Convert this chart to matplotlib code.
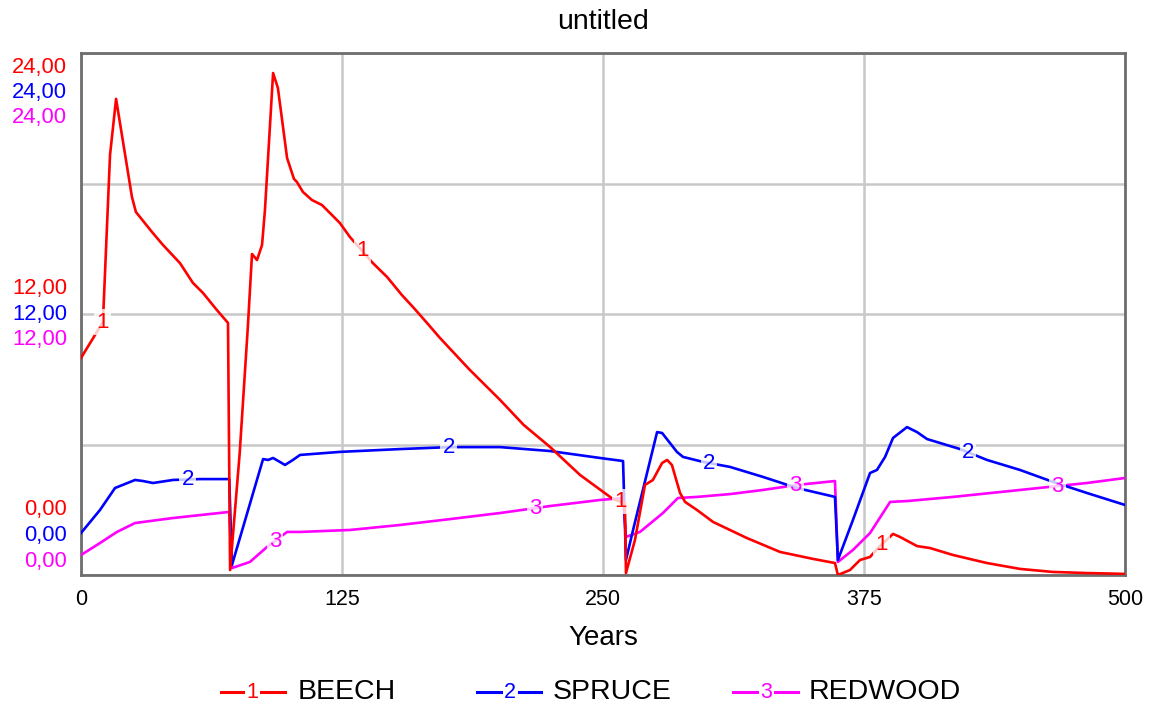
import matplotlib.pyplot as plt
import numpy as np
from matplotlib.lines import Line2D

plt.rcParams['font.family'] = ['Liberation Sans', 'DejaVu Sans']

# values (year, value)
beech_x = [0, 10.5, 13.9, 16.8, 24.4, 26.3, 34.0, 39.3, 47.4, 53.6, 58.4, 65.1, 70.4,
           71.4, 76.0, 79.9, 81.9, 84.3, 86.7, 88.1, 92.0, 94.3, 98.7, 102.0, 103.4, 106.3,
           110.6, 115.4, 120.2, 124.0, 128.8, 135.1, 139.8, 146.6, 153.7, 159.0, 165.7,
           171.9, 186.0, 200.7, 212.0, 224.6, 239.0, 254.8, 260.5,
           261.0, 265.3, 270.1, 273.9, 278.3, 280.7, 283.0, 286.9, 289.3, 295.0, 302.7,
           310.8, 318.9, 334.8, 350.6, 361.1,
           362.5, 368.3, 373.1, 377.9, 381.7, 388.9, 392.2, 400.4, 406.6, 417.6, 433.9,
           449.7, 465.5, 481.8, 500]
beech_y = [9.98, 11.63, 19.31, 21.89, 17.38, 16.69, 15.77, 15.17, 14.34, 13.43, 12.97, 12.18, 11.59,
           0.23, 5.6, 11.4, 14.76, 14.48, 15.17, 16.78, 23.08, 22.39, 19.17, 18.21, 18.07, 17.61,
           17.24, 17.01, 16.55, 16.18, 15.54, 14.85, 14.34, 13.70, 12.87, 12.32, 11.59,
           10.90, 9.45, 8.05, 6.90, 5.89, 4.60, 3.49, 3.31,
           0.09, 1.61, 4.14, 4.37, 5.15, 5.29, 5.06, 3.77, 3.36, 2.99, 2.44,
           2.07, 1.70, 1.06, 0.74, 0.55,
           0.0, 0.23, 0.69, 0.83, 1.24, 1.89, 1.75, 1.33, 1.24, 0.92, 0.55,
           0.28, 0.14, 0.09, 0.05]

spruce_x = [0, 9.1, 16.3, 25.9, 29.7, 34.5, 44.1, 57.0, 71.0,
            72.3, 87.2, 89.6, 92.0, 97.7, 101.5, 104.9, 124.0, 152.8, 176.7, 200.7,
            224.6, 248.6, 259.6,
            261.0, 264.4, 275.9, 278.3, 285.4, 288.3, 297.9, 310.8, 326.6, 342.9, 361.1,
            362.5, 369.7, 377.9, 381.2, 385.1, 388.9, 395.6, 400.4, 405.2, 411.4, 421.0,
            433.9, 449.7, 465.5, 481.8, 500]
spruce_y = [1.93, 2.99, 4.00, 4.37, 4.32, 4.23, 4.37, 4.41, 4.41,
            0.46, 5.33, 5.29, 5.38, 5.06, 5.29, 5.52, 5.66, 5.79, 5.88, 5.88,
            5.70, 5.38, 5.24,
            0.69, 2.07, 6.57, 6.53, 5.66, 5.43, 5.20, 4.97, 4.51, 4.00, 3.59,
            0.69, 2.53, 4.69, 4.83, 5.43, 6.30, 6.80, 6.57, 6.25, 6.07, 5.79,
            5.29, 4.83, 4.28, 3.77, 3.22]

redwood_x = [0, 9.1, 17.2, 25.9, 44.1, 71.0,
             72.3, 80.9, 89.1, 98.7, 104.9, 128.8, 152.8, 176.7, 200.7, 224.6, 248.6, 259.6,
             261.0, 267.7, 278.7, 285.9, 295.0, 310.8, 326.6, 342.9, 361.1,
             362.5, 369.7, 377.9, 387.5, 395.6, 417.6, 449.7, 481.8, 500]
redwood_y = [0.92, 1.47, 1.98, 2.39, 2.62, 2.90,
             0.32, 0.60, 1.29, 1.98, 1.98, 2.07, 2.30, 2.57, 2.85, 3.17, 3.45, 3.54,
             1.75, 1.98, 2.85, 3.54, 3.59, 3.72, 3.91, 4.14, 4.32,
             0.60, 1.15, 1.93, 3.36, 3.40, 3.59, 3.91, 4.23, 4.46]

names = ['BEECH', 'SPRUCE', 'REDWOOD']
colors = ['#ff0000', '#0000ff', '#ff00ff']
tags = ['1', '2', '3']
label_years = [[10.5, 134.6, 258.6, 383.6],
               [51.2, 176.2, 300.8, 424.8],
               [92.9, 217.4, 342.0, 467.5]]
scale_ticks = [24, 12, 0]
x_ticks = [0, 125, 250, 375, 500]

W, H = 1150, 708
fig = plt.figure(figsize=(W / 100, H / 100), dpi=100)
ax = fig.add_axes([81 / W, 1 - 575 / H, (1125 - 81) / W, (575 - 53) / H])

series = [(beech_x, beech_y), (spruce_x, spruce_y), (redwood_x, redwood_y)]
for i, (xs, ys) in enumerate(series):
    ax.plot(xs, ys, color=colors[i], lw=1.9, zorder=3 - i * 0.1)
    for yr in label_years[i]:
        yv = np.interp(yr, xs, ys)
        ax.text(yr, yv, tags[i], color=colors[i], fontsize=16, ha='center', va='center',
                zorder=5, bbox=dict(boxstyle='square,pad=0.1', fc='white', ec='none', alpha=0.78))

ax.set_xlim(0, 500)
ax.set_ylim(0, 24)
ax.set_xticks(x_ticks)
ax.set_xticklabels([str(t) for t in x_ticks], fontsize=15.5)
ax.set_yticks([0, 6, 12, 18, 24])
ax.set_yticklabels([])
ax.tick_params(length=0, pad=10)
ax.grid(color='#c8c8c8', lw=1.8)
ax.set_axisbelow(True)
for s in ax.spines.values():
    s.set_color('#6e6e6e')
    s.set_linewidth(2)

# staggered scale labels on the left
for i in range(3):
    for v in scale_ticks:
        py = 67 + 25.5 * i + (24 - v) / 12 * 221.5
        fig.text(67 / W, 1 - py / H, f'{v},00', color=colors[i],
                 fontsize=15.8, ha='right', va='center')

fig.text(603 / W, 1 - 22 / H, 'untitled', fontsize=20.5, ha='center', va='center')
fig.text(603 / W, 1 - 638 / H, 'Years', fontsize=20, ha='center', va='center')

# legend drawn by hand
leg_y = 1 - 692 / H
leg_line = [(221, 285, 252, 298), (477, 541, 510, 553), (733, 798, 766, 809)]
for i, (x0, x1, xm, xt) in enumerate(leg_line):
    fig.add_artist(Line2D([x0 / W, (xm - 9) / W], [leg_y, leg_y], color=colors[i], lw=2.2,
                          transform=fig.transFigure))
    fig.add_artist(Line2D([(xm + 9) / W, x1 / W], [leg_y, leg_y], color=colors[i], lw=2.2,
                          transform=fig.transFigure))
    fig.text(xm / W, leg_y, tags[i], color=colors[i], fontsize=15.5, ha='center', va='center')
    fig.text(xt / W, leg_y, names[i], fontsize=20.5, ha='left', va='center')

fig.savefig('out.png', dpi=100)
